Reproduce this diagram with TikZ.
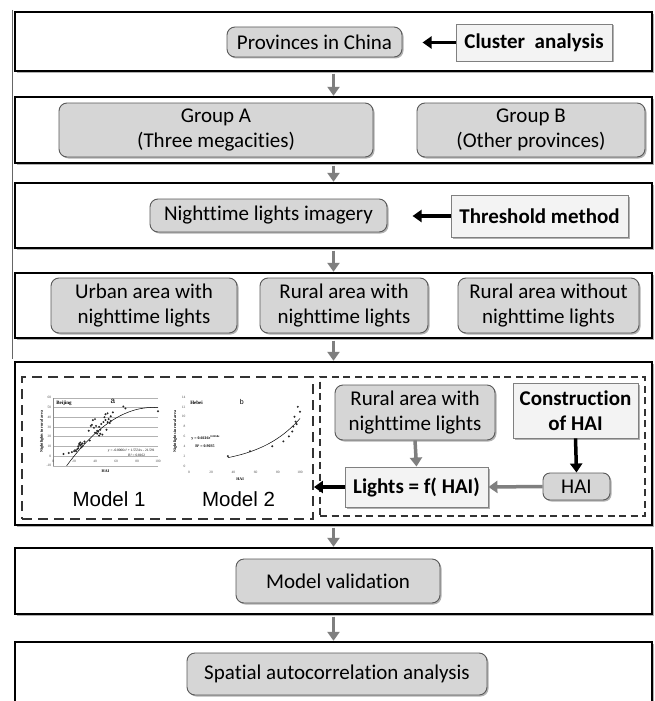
\documentclass[tikz,border=0pt]{standalone}
\usepackage{fontspec}
\setmainfont{Carlito}[Ligatures=NoCommon]
\newfontfamily\arialf{Liberation Sans}
\newfontfamily\timesf{Liberation Serif}
\usetikzlibrary{shadows,arrows.meta}
\definecolor{nodefill}{HTML}{D6D6D6}
\definecolor{boldfill}{HTML}{F3F3F3}
\definecolor{arrgray}{HTML}{7F7F7F}
\begin{document}
\begin{tikzpicture}[x=1pt,y=-1pt,
 frame/.style={draw=black, line width=2.4pt, fill=white, inner sep=0pt,
   drop shadow={shadow xshift=2pt,shadow yshift=-2pt,fill=black!30,opacity=1}},
 rnode/.style={draw=black!65, line width=0.9pt, fill=nodefill, rounded corners=8pt,
   inner sep=0pt, align=center, font=\fontsize{21}{25}\selectfont,
   drop shadow={shadow xshift=1.5pt,shadow yshift=-1.5pt,fill=black!30,opacity=1}},
 bnode/.style={draw=black!50, line width=0.9pt, fill=boldfill, inner sep=0pt,
   align=center, font=\fontsize{21}{25}\selectfont\bfseries,
   drop shadow={shadow xshift=1.5pt,shadow yshift=-1.5pt,fill=black!30,opacity=1}},
 garrow/.style={draw=arrgray, line width=3.5pt, -{Triangle[length=9pt,width=12pt]}},
 karrow/.style={draw=black, line width=3.5pt, -{Triangle[length=9pt,width=12pt]}},
 dboxL/.style={draw=black!80, line width=1.9pt, dash pattern=on 10pt off 6pt, inner sep=0pt},
 dboxR/.style={draw=black!80, line width=1.5pt, dash pattern=on 7pt off 4.5pt, inner sep=0pt},
 tick/.style={inner sep=0pt, font=\timesf\fontsize{3.5}{4}\selectfont, text=black!70},
 ctxt/.style={inner sep=0pt, font=\timesf\bfseries\fontsize{4}{4.5}\selectfont},
 model/.style={inner sep=0pt, font=\arialf\fontsize{20.5}{24}\selectfont},
 dot/.style={circle, fill=black!85, draw=none, inner sep=0pt, minimum size=2.2pt},
]
\clip (0,0) rectangle (654,701);
\fill[white] (0,0) rectangle (654,701);

% thin line at the left edge
\coordinate (lt) at (12.5,10);
\coordinate (lb) at (12.5,359);
\draw[black!60, line width=0.9pt] (lt) -- (lb);

% frames
\node[frame, minimum width=637pt, minimum height=59pt] (f1) at (333.5,41.5) {};
\node[frame, minimum width=637pt, minimum height=66pt] (f2) at (333.5,130) {};
\node[frame, minimum width=637pt, minimum height=65pt] (f3) at (333.5,215.5) {};
\node[frame, minimum width=637pt, minimum height=65pt] (f4) at (333.5,305.5) {};
\node[frame, minimum width=637pt, minimum height=163pt] (f5) at (333.5,443.5) {};
\node[frame, minimum width=637pt, minimum height=66pt] (f6) at (333.5,581) {};
\node[frame, minimum width=637pt, minimum height=98pt] (f7) at (333.5,691) {};

% row 1
\node[rnode, minimum width=175pt, minimum height=30pt] (prov) at (314.5,42) {Provinces in China};
\node[bnode, minimum width=156pt, minimum height=37pt] (clus) at (534,42.5) {Cluster\ \ analysis};
\draw[karrow] (clus.west) -- ++(-33,0) coordinate (clustip);

% row 2
\node[rnode, minimum width=314pt, minimum height=54pt] (grpA) at (216,130) {Group A\\(Three megacities)};
\node[rnode, minimum width=228pt, minimum height=54pt] (grpB) at (531,130) {Group B\\(Other provinces)};

% row 3
\node[rnode, minimum width=237pt, minimum height=33pt] (night) at (268.5,215.5) {Nighttime lights imagery};
\node[bnode, minimum width=177pt, minimum height=42pt] (thr) at (539.5,216) {Threshold method};
\draw[karrow] (thr.west) -- ++(-38,0) coordinate (thrtip);

% row 4
\node[rnode, minimum width=186pt, minimum height=55pt] (urban) at (144,305.5) {Urban area with\\nighttime lights};
\node[rnode, minimum width=168pt, minimum height=55pt] (rural1) at (344,305.5) {Rural area with\\nighttime lights};
\node[rnode, minimum width=181pt, minimum height=55pt] (rural2) at (548.5,305.5) {Rural area without\\nighttime lights};

% row 5 : dashed boxes
\node[dboxL, minimum width=291pt, minimum height=142pt] (dashL) at (167.5,448) {};
\node[dboxR, minimum width=325pt, minimum height=139pt] (dashR) at (482.5,446.5) {};

\node[rnode, minimum width=160pt, minimum height=55pt] (rural3) at (415,412.5) {Rural area with\\nighttime lights};
\node[bnode, minimum width=125pt, minimum height=55pt] (cons) at (575.5,410.5) {Construction\\of HAI};
\node[bnode, minimum width=143pt, minimum height=40pt] (lights) at (416.5,487) {Lights = f( HAI)};
\node[rnode, minimum width=67pt, minimum height=27pt, rounded corners=7pt] (hai) at (576.5,486.5) {HAI};
\draw[garrow] (rural3.south) -- (lights.north);
\draw[karrow] (cons.south) -- (hai.north);
\draw[garrow] (hai.west) -- (lights.east);
\draw[karrow] (lights.west) -- (lights.west -| dashL.east);

\node[model] (m1) at (109,499) {Model 1};
\node[model] (m2) at (238.5,499) {Model 2};

% chart a
\begin{scope}[shift={(53,456)}, xscale=1.05, yscale=-0.971]
  \foreach \v in {-10,0,...,60} \draw[black!30, line width=0.4pt] (0,\v) -- (100,\v);
  \draw[black!45, line width=0.4pt] (0,-10) -- (0,60);
  \foreach \v in {-10,0,...,60} \node[tick, anchor=east] at (-1.5,\v) {\v};
  \foreach \v in {0,20,...,100} \node[tick] at (\v,-5.5) {\v};
  \node[ctxt] (haia) at (50,-16) {HAI};
  \node[ctxt, rotate=90] (yla) at (-10.5,25) {Nightlights in rural area};
  \node[ctxt, anchor=west, font=\timesf\bfseries\fontsize{5}{6}\selectfont] (bj) at (3,54.5) {Beijing};
  \node[inner sep=0pt, font=\arialf\fontsize{8}{9}\selectfont] (la) at (57,56.5) {a};
  \draw[black, line width=0.5pt, domain=13:100, samples=40] plot (\x,{50-0.00892*(\x-95)*(\x-95)});
  \foreach \p/\q in {10/2,15/3,18/4,20/5,21/6,22/5,23/7,24/8,24/10,25/12,25/13,26/11,26/14,27/9,27/12,28/10,28/13,30/15,30/13,34/26,35/16,36/31,37/32,38/37,39/29,40/38,40/24,41/31,42/23,42/26,43/25,44/30,45/27,46/33,47/22,48/35,49/40,50/43,50/37,51/27,52/44,52/35,53/38,54/34,55/36,57/45,55/41,67/51,69/49,100/46,44/21,45/23}
    \node[dot] at (\p,\q) {};
  \node[tick, text=black, anchor=east] (eqa) at (97,5) {y = -0.0006x² + 1.5531x - 21.591};
  \node[tick, text=black, anchor=east] (r2a) at (88,1) {R² = 0.8162};
\end{scope}

% chart b
\begin{scope}[shift={(189,466)}, xscale=1.11, yscale=-4.93]
  \foreach \v in {0,2,...,14} \node[tick, anchor=east] at (-3,\v) {\v};
  \foreach \v in {0,20,...,100} \node[tick] at (\v,-1.2) {\v};
  \node[ctxt] (haib) at (46,-2.6) {HAI};
  \node[ctxt, rotate=90] (ylb) at (-12.5,7) {Nightlights in rural area};
  \node[ctxt, anchor=west, font=\timesf\bfseries\fontsize{5}{6}\selectfont] (hb) at (1,12.8) {Hebei};
  \node[inner sep=0pt, font=\arialf\fontsize{7}{8}\selectfont] (lb2) at (47.5,13) {b};
  \draw[black, line width=0.5pt, domain=35:100, samples=40] plot (\x,{0.6616*exp(0.0268*\x)});
  \foreach \p/\q in {35/2,55/3,75/4,85/5,90/6,93/7,94/8,95/10,96/9,97/8.5,98/12,100/11}
    \node[dot] at (\p,\q) {};
  \node[ctxt, anchor=west] (eqb) at (2,5.7) {y = 0.6616e\textsuperscript{0.0268x}};
  \node[ctxt, anchor=west] (r2b) at (5.5,4.1) {R² = 0.9035};
\end{scope}

% rows 6,7
\node[rnode, minimum width=204pt, minimum height=44pt] (valid) at (338,581) {Model validation};
\node[rnode, minimum width=300pt, minimum height=42pt] (spat) at (337,674) {Spatial autocorrelation analysis};

% connectors between frames
\draw[garrow, shorten <=1.3pt] (f1.south) -- (f2.north);
\draw[garrow, shorten <=1.3pt] (f2.south) -- (f3.north);
\draw[garrow, shorten <=1.3pt] (f3.south) -- (f4.north);
\draw[garrow, shorten <=1.3pt] (f4.south) -- (f5.north);
\draw[garrow, shorten <=1.3pt] (f5.south) -- (f6.north);
\draw[garrow, shorten <=1.3pt] (f6.south) -- (f7.north);
\end{tikzpicture}
\end{document}
